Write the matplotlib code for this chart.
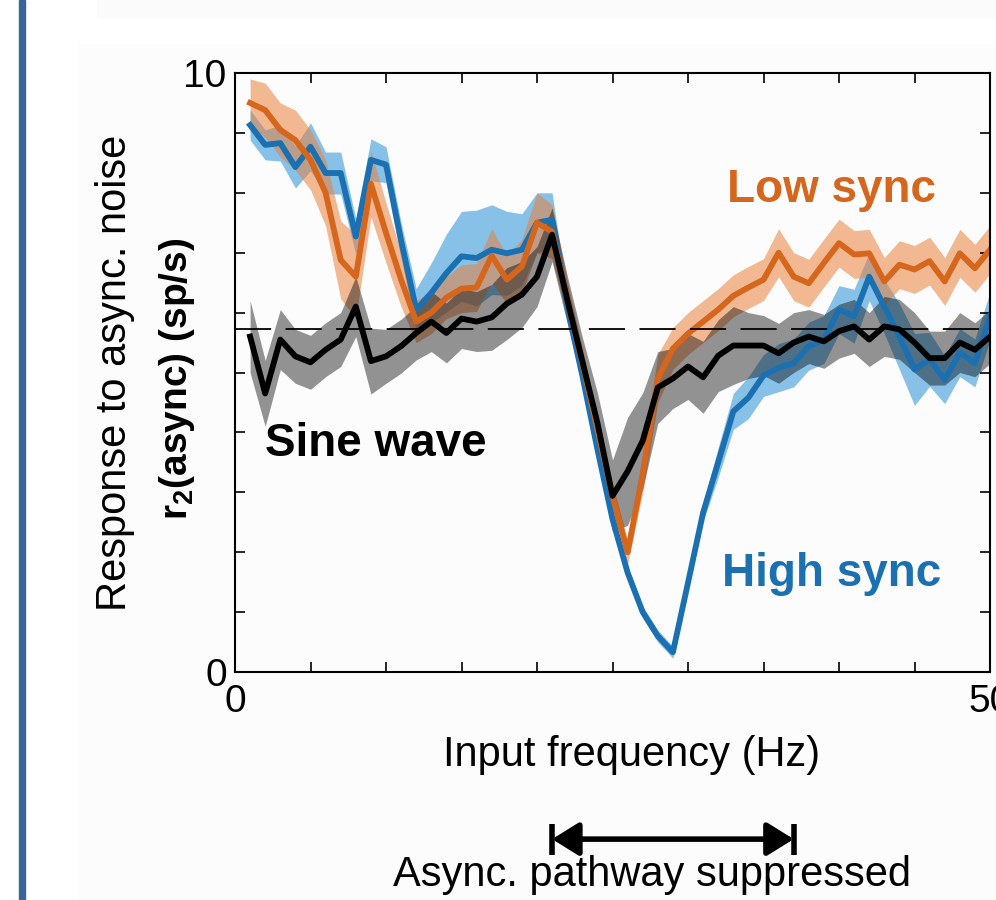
import numpy as np
import matplotlib
matplotlib.use('Agg')
import matplotlib.pyplot as plt
from matplotlib.patches import Rectangle

plt.rcParams['font.family'] = ['Liberation Sans', 'DejaVu Sans']
plt.rcParams['mathtext.fontset'] = 'custom'
plt.rcParams['mathtext.rm'] = 'Liberation Sans'
plt.rcParams['mathtext.bf'] = 'Liberation Sans:bold'

freq = np.arange(1, 51)

# low sync (orange)
low_sync = [9.50, 9.38, 9.05, 8.88, 8.55, 8.00, 6.88, 6.60, 8.15, 7.33,
            6.55, 5.85, 6.00, 6.25, 6.40, 6.42, 6.95, 6.55, 6.77, 7.50,
            7.35, 6.22, 5.16, 4.05, 2.94, 2.00, 3.30, 4.90, 5.40, 5.65,
            5.85, 6.05, 6.28, 6.42, 6.55, 7.00, 6.60, 6.49, 6.83, 7.16,
            6.97, 6.99, 6.52, 6.80, 6.72, 6.86, 6.52, 6.99, 6.74, 7.05]
low_err = [0.40, 0.45, 0.45, 0.50, 0.50, 0.55, 0.65, 0.70, 0.55, 0.50,
           0.45, 0.35, 0.35, 0.35, 0.40, 0.40, 0.45, 0.40, 0.45, 0.50,
           0.45, 0.30, 0.25, 0.20, 0.20, 0.20, 0.30, 0.40, 0.35, 0.35,
           0.35, 0.35, 0.35, 0.35, 0.35, 0.40, 0.40, 0.40, 0.40, 0.40,
           0.40, 0.40, 0.40, 0.40, 0.40, 0.40, 0.40, 0.40, 0.40, 0.40]

# high sync (blue)
high_sync = [9.13, 8.80, 8.83, 8.43, 8.77, 8.33, 8.33, 7.27, 8.55, 8.47,
             7.20, 6.05, 6.33, 6.66, 6.94, 6.91, 7.05, 6.99, 7.05, 7.50,
             7.55, 6.10, 4.95, 3.72, 2.55, 1.66, 1.00, 0.60, 0.33, 1.49,
             2.66, 3.50, 4.35, 4.58, 4.95, 5.08, 5.16, 5.44, 5.55, 6.05,
             5.94, 6.60, 6.10, 5.60, 5.05, 5.22, 4.88, 5.33, 5.16, 5.94]
high_err = [0.25, 0.25, 0.30, 0.35, 0.40, 0.35, 0.35, 0.30, 0.35, 0.30,
            0.30, 0.35, 0.50, 0.65, 0.75, 0.80, 0.75, 0.70, 0.60, 0.50,
            0.45, 0.20, 0.15, 0.12, 0.10, 0.10, 0.10, 0.10, 0.10, 0.12,
            0.15, 0.25, 0.30, 0.35, 0.35, 0.40, 0.40, 0.40, 0.40, 0.40,
            0.45, 0.40, 0.45, 0.55, 0.60, 0.45, 0.40, 0.40, 0.40, 0.40]

# sine wave (black)
sine = [5.60, 4.65, 5.55, 5.27, 5.17, 5.38, 5.55, 6.10, 5.19, 5.27,
        5.44, 5.66, 5.85, 5.66, 5.90, 5.85, 5.92, 6.15, 6.30, 6.60,
        7.30, 6.22, 5.19, 4.16, 2.94, 3.35, 3.86, 4.75, 4.90, 5.10,
        4.92, 5.28, 5.45, 5.45, 5.45, 5.32, 5.50, 5.60, 5.52, 5.69,
        5.77, 5.55, 5.77, 5.72, 5.50, 5.24, 5.24, 5.50, 5.38, 5.60]
sine_err = [0.60, 0.55, 0.50, 0.45, 0.45, 0.45, 0.45, 0.50, 0.55, 0.45,
            0.45, 0.45, 0.50, 0.50, 0.50, 0.50, 0.55, 0.60, 0.55, 0.50,
            0.45, 0.40, 0.40, 0.50, 0.60, 0.90, 0.80, 0.60, 0.50, 0.55,
            0.60, 0.60, 0.65, 0.55, 0.50, 0.50, 0.50, 0.45, 0.45, 0.45,
            0.45, 0.45, 0.50, 0.50, 0.50, 0.45, 0.45, 0.50, 0.45, 0.45]

baseline = 5.72
suppressed = (21, 37)

orange = '#D5661C'
blue = '#1A70B0'

fig = plt.figure(figsize=(9.96, 9.0), dpi=100)
fig.patches.append(Rectangle((78/996, 0), 1, 855/900, transform=fig.transFigure,
                             color='#FCFCFC', zorder=-10))
fig.patches.append(Rectangle((97/996, 883/900), 1, 17/900, transform=fig.transFigure,
                             color='#FBFBFB', zorder=-10))
fig.patches.append(Rectangle((19/996, 0), 6/996, 1, transform=fig.transFigure,
                             color='#3A6496', zorder=-10))

ax = fig.add_axes([235/996, 228/900, 755/996, 599/900])
ax.set_facecolor('none')

lo = np.array(low_sync); le = np.array(low_err)
hi = np.array(high_sync); he = np.array(high_err)
sw = np.array(sine); se = np.array(sine_err)

ax.fill_between(freq, hi - he, hi + he, color='#3A9AD9', alpha=0.6, lw=0)
ax.plot(freq, hi, color=blue, lw=4.2)
ax.fill_between(freq, lo - le, lo + le, color='#E8803C', alpha=0.55, lw=0)
ax.plot(freq, lo, color=orange, lw=4.2)
ax.fill_between(freq, sw - se, sw + se, color='k', alpha=0.42, lw=0)
ax.plot(freq, sw, color='k', lw=4.2)

ax.axhline(baseline, color='k', lw=1.3, dashes=(20, 8))

ax.set_xlim(0, 50)
ax.set_ylim(0, 10)
ax.set_xticks(np.arange(0, 51, 5))
ax.set_xticklabels(['0'] + [''] * 9 + ['50'])
ax.set_yticks(np.arange(0, 11, 1))
ax.set_yticklabels(['0'] + [''] * 9 + ['10'])
ax.tick_params(direction='in', top=True, right=True, length=7, width=1.2,
               labelsize=28)
ax.tick_params(axis='x', pad=9)
ax.tick_params(axis='y', pad=6)
for sp in ax.spines.values():
    sp.set_linewidth(1.5)

ax.set_xlabel('Input frequency (Hz)', fontsize=30)
ax.xaxis.set_label_coords(0.525, -0.105)

ax.text(-0.159, 0.5, 'Response to async. noise', rotation=90, fontsize=30,
        ha='center', va='center', transform=ax.transAxes)
ax.text(-0.077, 0.49, r'$\mathbf{r}_{\mathbf{2}}$(async) (sp/s)', rotation=90,
        fontsize=28, fontweight='bold', ha='center', va='center',
        transform=ax.transAxes)

ax.text(32.6, 7.85, 'Low sync', color=orange, fontsize=33, fontweight='bold')
ax.text(32.25, 1.43, 'High sync', color=blue, fontsize=33, fontweight='bold')
ax.text(2.0, 3.6, 'Sine wave', color='k', fontsize=33, fontweight='bold')

# bracket under the axis
trans = ax.get_xaxis_transform()
ya = -0.279
ax.annotate('', xy=(suppressed[1], ya), xytext=(suppressed[0], ya),
            xycoords=trans, textcoords=trans, annotation_clip=False,
            arrowprops=dict(arrowstyle='<|-|>,head_length=0.45,head_width=0.28',
                            color='k', lw=4, mutation_scale=36,
                            shrinkA=0, shrinkB=0))
for xe in suppressed:
    ax.plot([xe, xe], [ya - 0.026, ya + 0.026], transform=trans, color='k',
            lw=4, clip_on=False, solid_capstyle='butt')
ax.text(27.6, -0.358, 'Async. pathway suppressed', fontsize=30, ha='center',
        va='baseline', transform=trans)

fig.savefig('out.png', dpi=100)
